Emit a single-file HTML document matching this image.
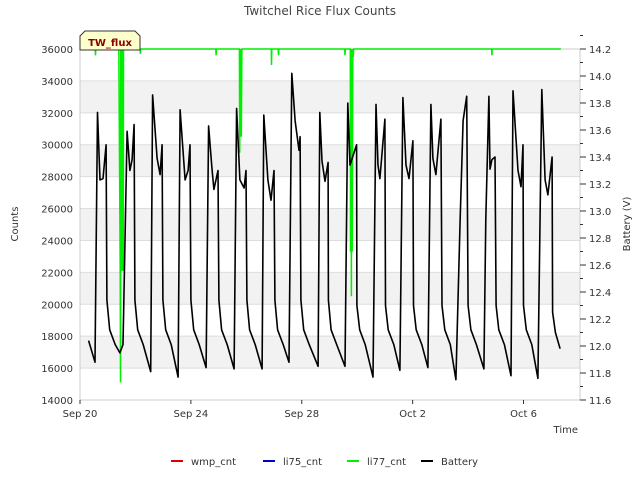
<!DOCTYPE html>
<html><head><meta charset="utf-8"><style>
body{margin:0;background:#fff}
svg{font-family:"DejaVu Sans","Liberation Sans",sans-serif}
</style></head><body>
<svg width="640" height="480" viewBox="0 0 640 480" id="c">
<text x="320" y="15" text-anchor="middle" font-size="12" fill="#444">Twitchel Rice Flux Counts</text>
<g id="bands"></g>
<g id="grid"></g>
<rect x="80" y="49" width="500" height="351" fill="none" stroke="#ccc"/>
<g id="xaxis"></g><g id="yleft"></g><g id="yright"></g>
<g id="series"></g>
<text x="18" y="224" transform="rotate(-90 18 224)" text-anchor="middle" font-size="10" fill="#333">Counts</text>
<text x="630" y="224" transform="rotate(-90 630 224)" text-anchor="middle" font-size="10" fill="#333">Battery (V)</text>
<text x="578" y="433" text-anchor="end" font-size="10" fill="#333">Time</text>
<g>
<path d="M80,50 L80,36 L85,31 L135,31 L140,36 L140,50 Z" fill="#ffffcc" stroke="#333"/>
<text x="110" y="46" text-anchor="middle" font-size="10" font-weight="bold" fill="#8b0000">TW_flux</text>
</g>
<g id="legend" font-size="10" fill="#333"></g>
</svg>
<script>
const xTicks=[0,4,8,12,16];
const xTickLabels=["Sep 20","Sep 24","Sep 28","Oct 2","Oct 6"];
const yTicks=[14000,16000,18000,20000,22000,24000,26000,28000,30000,32000,34000,36000];
const y2Ticks=[11.6,11.8,12.0,12.2,12.4,12.6,12.8,13.0,13.2,13.4,13.6,13.8,14.0,14.2];
const batT=[0.31,0.54,0.63,0.72,0.83,0.94,0.97,1.07,1.27,1.44,1.55,1.70,1.80,1.88,1.95,1.98,2.08,2.28,2.55,2.62,2.78,2.89,2.96,2.99,3.09,3.29,3.54,3.61,3.79,3.90,3.97,4.00,4.10,4.30,4.55,4.64,4.76,4.83,4.98,5.01,5.11,5.31,5.56,5.65,5.77,5.92,5.99,6.02,6.12,6.32,6.57,6.63,6.78,6.89,7.00,7.03,7.13,7.33,7.54,7.64,7.76,7.90,7.94,7.97,8.07,8.27,8.59,8.65,8.73,8.84,8.95,8.96,9.06,9.26,9.56,9.66,9.74,9.98,9.99,10.09,10.29,10.57,10.68,10.75,10.82,11.00,11.02,11.12,11.32,11.54,11.65,11.76,11.87,12.01,12.03,12.13,12.33,12.55,12.66,12.73,12.84,13.02,13.06,13.16,13.36,13.56,13.71,13.82,13.95,14.00,14.10,14.30,14.57,14.64,14.75,14.79,14.86,14.97,15.01,15.11,15.31,15.55,15.62,15.80,15.91,15.98,16.00,16.10,16.30,16.52,16.66,16.78,16.88,17.03,17.05,17.15,17.32];
const batV=[12.04,11.88,13.73,13.23,13.24,13.49,12.34,12.12,12.01,11.95,12.01,13.59,13.30,13.38,13.64,12.34,12.12,12.01,11.81,13.86,13.39,13.27,13.49,12.34,12.12,12.01,11.77,13.75,13.23,13.30,13.49,12.34,12.12,12.01,11.84,13.63,13.32,13.16,13.30,12.34,12.12,12.01,11.83,13.76,13.23,13.17,13.30,12.34,12.12,12.01,11.83,13.71,13.23,13.08,13.30,12.34,12.12,12.01,11.88,14.02,13.67,13.45,13.55,12.34,12.12,12.01,11.85,13.73,13.37,13.22,13.36,12.34,12.12,12.01,11.85,13.80,13.34,13.49,12.30,12.12,12.01,11.77,13.79,13.34,13.24,13.68,12.30,12.12,12.01,11.82,13.84,13.34,13.24,13.52,12.30,12.12,12.01,11.84,13.79,13.39,13.27,13.68,12.30,12.12,12.01,11.75,12.90,13.67,13.85,12.30,12.12,12.01,11.83,12.94,13.85,13.31,13.38,13.40,12.30,12.12,12.01,11.78,13.89,13.30,13.18,13.49,12.30,12.12,12.01,11.76,13.90,13.23,13.12,13.40,12.25,12.10,11.98];
const li77T=[0,0.55,0.56,0.57,1.40,1.45,1.46,1.47,1.48,1.50,1.51,1.53,1.56,1.57,2.17,2.18,2.19,4.90,4.91,4.92,5.75,5.76,5.78,5.80,5.81,5.82,5.84,5.85,6.90,6.91,6.92,7.15,7.16,7.17,9.55,9.56,9.57,9.75,9.76,9.77,9.79,9.80,9.82,9.84,9.86,9.87,14.85,14.86,14.87,17.35];
const li77V=[36000,36000,35600,36000,36000,22100,15100,36000,22100,36000,22100,36000,22100,36000,36000,35700,36000,36000,35600,36000,36000,29500,36000,35200,36000,30500,36000,36000,36000,35000,36000,36000,35600,36000,36000,35600,36000,36000,23300,36000,20500,36000,23300,36000,35500,36000,36000,35600,36000,36000];
const NS="http://www.w3.org/2000/svg";
const X=d=>80+d*27.72, Y=c=>400-(c-14000)*351/22000, Y2=v=>400-(v-11.6)*351/2.6;
function el(t,a,p){const e=document.createElementNS(NS,t);for(const k in a)e.setAttribute(k,a[k]);document.getElementById(p).appendChild(e);return e;}
for(let i=0;i<yTicks.length-1;i++){
 if(i%2===1){const b=el('rect',{x:80,y:Y(yTicks[i+1]),width:500,height:Y(yTicks[i])-Y(yTicks[i+1]),fill:'#f2f2f2'},'bands');
 
 }
}
yTicks.forEach(v=>{
 const g=el('line',{x1:80,x2:580,y1:Y(v),y2:Y(v),stroke:'#ddd'},'grid');
 
 
 const t=el('text',{x:73,y:Y(v)+4,'text-anchor':'end','font-size':10,fill:'#333'},'yleft');t.textContent=v;
 
 
});
y2Ticks.forEach(v=>{
 el('line',{x1:580,x2:586,y1:Y2(v),y2:Y2(v),stroke:'#333'},'yright');
 el('line',{x1:580,x2:583,y1:Y2(v+0.1),y2:Y2(v+0.1),stroke:'#333'},'yright');
 const t=el('text',{x:589,y:Y2(v)+4,'font-size':10,fill:'#333'},'yright');t.textContent=v.toFixed(1);
 
 
});
xTicks.forEach((d,i)=>{
 el('line',{x1:X(d),x2:X(d),y1:400,y2:404,stroke:'#333'},'xaxis');
 const t=el('text',{x:X(d),y:417,'text-anchor':'middle','font-size':10,fill:'#333'},'xaxis');t.textContent=xTickLabels[i];
 
 
});
const gp=li77T.map((d,i)=>X(d).toFixed(1)+','+Y(li77V[i]).toFixed(1)).join(' ');
const g=el('polyline',{points:gp,fill:'none',stroke:'#00ee00','stroke-width':1.5},'series');


const bp=batT.map((d,i)=>X(d).toFixed(1)+','+Y2(batV[i]).toFixed(1)).join(' ');
const b=el('polyline',{points:bp,fill:'none',stroke:'#000','stroke-width':1.6,'stroke-linejoin':'round'},'series');


const legNames=["wmp_cnt","li75_cnt","li77_cnt","Battery"],legColors=["#dd0000","#0000cc","#00ee00","#000"],legX=[171,263,347,421];
legNames.forEach((n,i)=>{
 el('line',{x1:legX[i],x2:legX[i]+12,y1:461,y2:461,stroke:legColors[i],'stroke-width':2},'legend');
 const t=el('text',{x:legX[i]+20,y:465,'font-size':10,fill:'#333'},'legend');t.textContent=n;
 
 
});
</script>
</body></html>
